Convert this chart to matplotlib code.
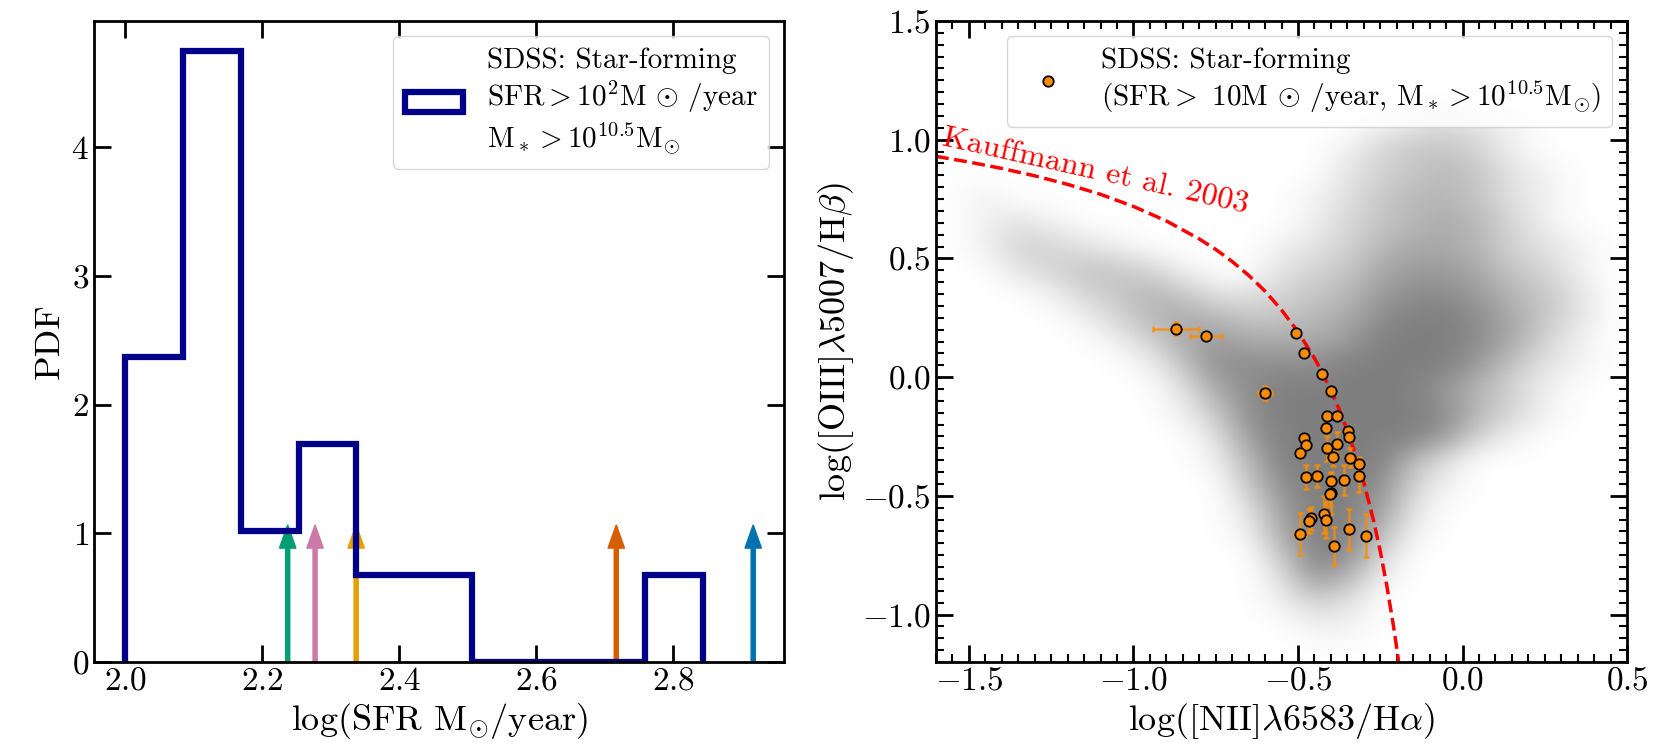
import numpy as np
import matplotlib
matplotlib.use("Agg")
import matplotlib.pyplot as plt
from matplotlib.ticker import MultipleLocator, AutoMinorLocator

plt.rcParams['font.family'] = 'serif'
plt.rcParams['font.serif'] = ['cmr10']
plt.rcParams['mathtext.fontset'] = 'cm'
plt.rcParams['axes.formatter.use_mathtext'] = True
plt.rcParams['axes.unicode_minus'] = True

# left panel: SFR histogram of SDSS star-forming galaxies
sfr_edges = [2.0, 2.0843, 2.1686, 2.2529, 2.3372, 2.4215, 2.5058, 2.5901, 2.6744, 2.7587, 2.843]
sfr_counts = [7, 14, 3, 5, 2, 2, 0, 0, 0, 2]

# arrows marking individual objects
arrow_x = [2.237, 2.277, 2.337, 2.717, 2.917]
arrow_colors = ['#009E73', '#CC79A7', '#E69F00', '#D55E00', '#0072B2']

# right panel: BPT points
bpt_x = [-0.871, -0.779, -0.506, -0.481, -0.427, -0.399, -0.600, -0.411, -0.380, -0.415,
         -0.349, -0.344, -0.481, -0.476, -0.495, -0.412, -0.382, -0.395, -0.342, -0.315,
         -0.476, -0.441, -0.400, -0.359, -0.315, -0.399, -0.402, -0.420, -0.415, -0.459,
         -0.466, -0.494, -0.345, -0.292, -0.392]
bpt_y = [0.204, 0.174, 0.187, 0.103, 0.012, -0.059, -0.067, -0.165, -0.164, -0.216,
         -0.226, -0.254, -0.258, -0.286, -0.321, -0.300, -0.282, -0.335, -0.340, -0.366,
         -0.422, -0.417, -0.438, -0.433, -0.415, -0.490, -0.493, -0.578, -0.602, -0.595,
         -0.605, -0.661, -0.641, -0.668, -0.711]
bpt_xerr = [0.070, 0.049, 0.005, 0.005, 0.005, 0.005, 0.020, 0.010, 0.010, 0.010,
            0.010, 0.010, 0.010, 0.010, 0.010, 0.010, 0.010, 0.010, 0.010, 0.010,
            0.010, 0.010, 0.010, 0.010, 0.010, 0.010, 0.010, 0.010, 0.010, 0.010,
            0.010, 0.019, 0.010, 0.010, 0.010]
bpt_yerr = [0.028, 0.018, 0.010, 0.010, 0.010, 0.010, 0.030, 0.015, 0.015, 0.015,
            0.020, 0.020, 0.015, 0.015, 0.020, 0.053, 0.050, 0.040, 0.040, 0.030,
            0.050, 0.046, 0.040, 0.063, 0.067, 0.085, 0.050, 0.077, 0.077, 0.050,
            0.050, 0.087, 0.086, 0.091, 0.080]

# Kauffmann et al. 2003 demarcation
kauff_x = [-1.6, -1.5, -1.4, -1.3, -1.2, -1.1, -1.0, -0.9, -0.8, -0.75, -0.7, -0.65, -0.6,
           -0.55, -0.5, -0.45, -0.425, -0.4, -0.375, -0.35, -0.325, -0.3, -0.27, -0.25,
           -0.23, -0.21, -0.2, -0.19]
kauff_y = [0.930, 0.906, 0.879, 0.848, 0.812, 0.770, 0.719, 0.658, 0.582, 0.538, 0.487,
           0.429, 0.362, 0.283, 0.191, 0.080, 0.016, -0.056, -0.135, -0.225, -0.327,
           -0.443, -0.606, -0.733, -0.879, -1.046, -1.140, -1.242]

# SDSS cloud density (0-9), cells of 0.1 dex; rows from y=1.45 down to y=-1.15,
# columns from x=-1.55 to x=0.45
sdss_density = [
    "000000000000000000000",
    "000000000000000000000",
    "000000000000000000000",
    "000000000000000000000",
    "000000000000012321000",
    "000000000000134431000",
    "000000000000234542100",
    "010000000001245542100",
    "012100000001345653100",
    "013321000012356653210",
    "002344310023467764310",
    "000134542234578875420",
    "000013565445689986420",
    "000001367666799986310",
    "000000148888999974210",
    "000000026899999753100",
    "000000014899999853100",
    "000000002799999731000",
    "000000001599995200000",
    "000000000489983100000",
    "000000000279972000000",
    "000000000169951000000",
    "000000000049830000000",
    "000000000027510000000",
    "000000000013200000000",
    "000000000001100000000",
    "000000000000000000000",
]

fig = plt.figure(figsize=(16.54, 7.56), dpi=100)
ax1 = fig.add_axes([0.0568, 0.1243, 0.4172, 0.8479])
ax2 = fig.add_axes([0.5659, 0.1243, 0.4178, 0.8479])

# ---- left panel
for x, c in zip(arrow_x, arrow_colors):
    ax1.arrow(x, 0, 0, 1.065, width=0.006, head_width=0.024, head_length=0.18,
              length_includes_head=True, color=c, zorder=1)

centers = [(a + b) / 2 for a, b in zip(sfr_edges[:-1], sfr_edges[1:])]
ax1.hist(centers, bins=sfr_edges, weights=sfr_counts, density=True, histtype='step',
         color='#00008B', lw=4.5, zorder=2,
         label='SDSS: Star-forming\n' + r'SFR$>10^2$M $\odot$ /year' + '\n'
               + r'$\mathrm{M}_* > 10^{10.5}\mathrm{M}_{\odot}$')

ax1.set_xlim(1.954, 2.962)
ax1.set_ylim(0, 4.98)
ax1.set_xlabel(r'log(SFR M$_{\odot}$/year)', fontsize=26)
ax1.set_ylabel('PDF', fontsize=26)
ax1.xaxis.set_major_locator(MultipleLocator(0.2))
ax1.yaxis.set_major_locator(MultipleLocator(1))
ax1.legend(loc='upper right', fontsize=21)

# ---- right panel
grid = np.array([[int(ch) for ch in row] for row in sdss_density], dtype=float)
rgba = np.zeros(grid.shape + (4,))
rgba[..., :3] = 0.5
rgba[..., 3] = grid / 9.0
ax2.imshow(rgba, extent=(-1.6, 0.5, -1.2, 1.5), origin='upper', aspect='auto',
           interpolation='bicubic', zorder=0)

ax2.plot(kauff_x, kauff_y, '--', color='red', lw=2.5, zorder=2)
ax2.text(-1.585, 0.975, 'Kauffmann et al. 2003', color='red', fontsize=23,
         rotation=-12.5, rotation_mode='anchor', ha='left', va='baseline')

ax2.errorbar(bpt_x, bpt_y, xerr=bpt_xerr, yerr=bpt_yerr, fmt='none',
             ecolor='darkorange', elinewidth=1.8, capsize=2.5, capthick=1.8,
             alpha=0.8, zorder=3)
ax2.plot(bpt_x, bpt_y, 'o', mfc='darkorange', mec='black', ms=7.5, mew=1.3, zorder=4,
         label='SDSS: Star-forming\n' + r'(SFR$>$ 10M $\odot$ /year, '
               r'$\mathrm{M}_* > 10^{10.5}\mathrm{M}_{\odot}$)')

ax2.set_xlim(-1.6, 0.5)
ax2.set_ylim(-1.2, 1.5)
ax2.set_xlabel(r'log([NII]$\lambda$6583/H$\alpha$)', fontsize=26)
ax2.set_ylabel(r'log([OIII]$\lambda$5007/H$\beta$)', fontsize=26)
ax2.xaxis.set_major_locator(MultipleLocator(0.5))
ax2.yaxis.set_major_locator(MultipleLocator(0.5))
ax2.xaxis.set_minor_locator(AutoMinorLocator(10))
ax2.yaxis.set_minor_locator(AutoMinorLocator(10))
ax2.legend(loc='upper right', fontsize=21, numpoints=1)

for ax in (ax1, ax2):
    ax.tick_params(which='both', direction='in', top=True, right=True, labelsize=24)
    ax.tick_params(which='major', length=12, width=2)
    ax.tick_params(which='minor', length=6, width=1.5)
    for s in ax.spines.values():
        s.set_linewidth(2)

fig.savefig('out.png', dpi=100)
